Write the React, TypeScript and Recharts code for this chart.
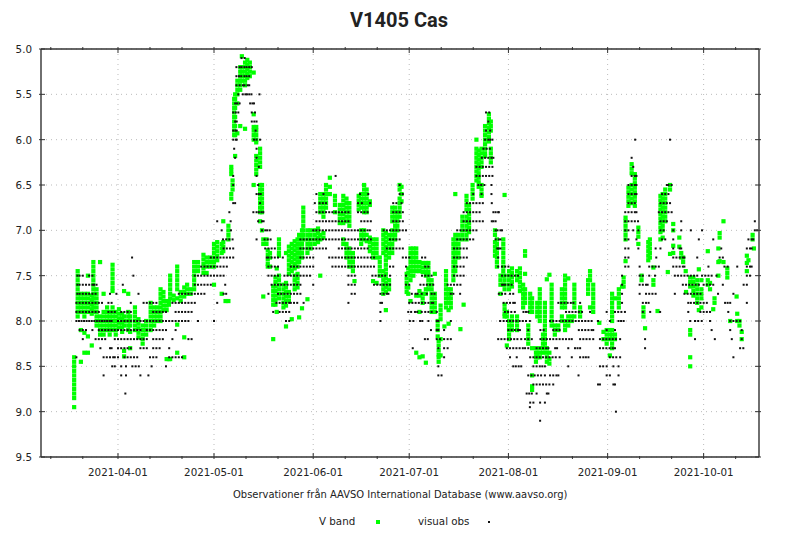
import { ScatterChart, Scatter, XAxis, YAxis, CartesianGrid } from 'recharts';

// x values are days counted from 2021-04-01, y values are magnitudes
const monthTicks = [0, 30, 61, 91, 122, 153, 183];
const monthLabels = ['2021-04-01', '2021-05-01', '2021-06-01', '2021-07-01', '2021-08-01', '2021-09-01', '2021-10-01'];
const allDayTicks = [-21, -11, 0, 10, 20, 30, 40, 50, 61, 71, 81, 91, 101, 111, 122, 132, 142, 153, 163, 173, 183, 193];
const magTicks = [5, 5.5, 6, 6.5, 7, 7.5, 8, 8.5, 9, 9.5];

// each row: day, then the magnitudes seen that day
const vBandSpring: number[][] = [
  [-13.7, 8.4, 8.45, 8.5, 8.55, 8.6, 8.65, 8.7, 8.75, 8.8, 8.85, 8.95],
  [-12.6, 7.45, 7.5, 7.55, 7.6, 7.65, 7.7, 7.75, 7.8, 7.85, 7.9, 7.95],
  [-11.6, 7.7, 7.75, 7.8, 7.85, 7.9, 8.1, 8.45],
  [-10.5, 7.7, 7.75, 7.8, 7.85, 7.9, 7.95, 8.13, 8.35],
  [-9.4, 7.5, 7.7, 7.75, 7.8, 7.85, 7.9, 8.17, 8.35],
  [-8.2, 7.72, 7.77, 7.82, 7.87, 7.92, 8.27],
  [-7.7, 7.35, 7.4, 7.45, 7.5, 7.55, 7.6, 7.65, 7.7, 7.75, 7.8, 7.85, 7.9],
  [-6.7, 7.65, 7.7, 7.75, 7.8, 7.85, 7.9, 7.95, 8.0, 8.05],
  [-5.6, 7.35, 7.95, 8.0, 8.05, 8.1, 8.15],
  [-4.5, 7.7, 7.9, 7.95, 8.0, 8.05, 8.1, 8.15],
  [-3.4, 7.85, 7.9, 7.95, 8.0, 8.05, 8.1],
  [-2.6, 7.9, 7.95, 8.0, 8.05, 8.1, 8.15],
  [-1.7, 7.38, 7.43, 7.48, 7.53, 7.58, 7.63, 7.67, 7.85, 7.9, 7.95, 8.0, 8.05, 8.1],
  [-0.7, 7.9, 7.95, 8.0, 8.05, 8.1, 8.15],
  [0.3, 7.87, 7.92, 7.97, 8.02, 8.07],
  [1.3, 7.92, 7.97, 8.02, 8.07, 8.12],
  [1.9, 7.67, 7.95, 8.0, 8.05, 8.33, 8.39],
  [3.2, 7.7, 7.9, 7.95, 8.0, 8.05, 8.1],
  [3.8, 7.95, 8.0, 8.05, 8.12, 8.3],
  [5.3, 7.85, 7.9, 7.95, 8.0, 8.05, 8.1],
  [6.4, 7.98, 8.03, 8.08, 8.13, 8.18],
  [7.7, 8.05, 8.1, 8.15, 8.2, 8.25],
  [8.8, 8.0, 8.05, 8.1, 8.15],
  [10.2, 7.8, 7.85, 7.9, 7.95, 8.0, 8.05, 8.1],
  [11.3, 7.85, 7.9, 7.95, 8.0, 8.05],
  [12.3, 7.85, 7.9, 7.95, 8.0],
  [13.3, 7.65, 7.7, 7.75, 7.8, 7.85, 7.9, 7.95, 8.0],
  [14.2, 7.68, 7.73, 7.78, 7.83, 7.88],
  [15.2, 7.78, 7.83, 7.88, 8.42],
  [15.9, 7.78, 7.82, 8.42],
  [16.3, 7.5, 7.55, 7.6, 7.65, 7.7, 7.75, 8.42],
  [17.4, 7.72, 7.77],
  [18.5, 7.4, 7.45, 7.5, 7.55, 7.6, 7.65, 7.75, 8.04, 8.35],
  [19.6, 7.68, 7.73, 7.78],
  [20.7, 7.63, 7.68, 7.73, 8.18, 8.4],
  [21.6, 7.6, 7.65, 7.7],
  [22.7, 7.65, 7.7],
  [23.8, 7.35, 7.4, 7.45, 7.5, 7.55, 7.6, 7.65],
  [25, 7.35, 7.4, 7.45],
  [26.7, 7.27, 7.32, 7.37, 7.42, 7.47],
  [27.7, 7.3, 7.35, 7.4, 7.47],
  [28.8, 7.3, 7.35, 7.4],
  [30, 7.15, 7.2, 7.25, 7.3, 7.35, 7.4, 7.6],
  [31, 7.13, 7.18, 7.23, 7.28, 7.33],
  [32.4, 7.15, 7.2, 7.25, 7.7],
  [32.9, 6.9, 7.13, 7.18, 7.23],
  [33.6, 7.78],
  [34.5, 6.95, 7.0, 7.05, 7.1, 7.78],
  [35.4, 6.3, 6.34, 6.38, 6.6, 6.65],
  [35.8, 6.45, 6.5, 6.55],
  [36.3, 5.55, 5.6, 5.65, 5.7, 5.75, 5.8, 5.85, 5.9, 5.95],
  [36.6, 5.5, 5.55, 5.65, 5.75, 5.85, 5.95, 6.18],
  [37.3, 5.35, 5.4, 5.45, 5.5, 5.6, 5.93],
  [38.2, 5.2, 5.25, 5.3, 5.35, 5.4, 5.45, 5.85],
  [38.7, 5.08, 5.2, 5.25, 5.3, 5.35],
  [39.7, 5.15, 5.2, 5.25, 5.3, 5.35, 5.4, 5.88],
  [40.4, 5.12, 5.17, 5.22, 5.27, 5.32],
  [41.2, 5.15, 5.2, 5.25, 5.3],
  [42.4, 5.26, 5.72, 5.86, 5.9, 5.95, 6.0, 6.5],
  [43.2, 5.86, 5.9, 5.95, 6.0, 6.03, 6.18, 6.23, 6.28, 6.33, 6.38],
  [44.4, 6.1, 6.15, 6.2, 6.25, 6.3, 6.5, 6.55, 6.6, 6.65, 6.7, 6.75, 6.8, 6.9],
  [45, 6.5, 6.55, 6.6, 6.65, 6.7, 6.75, 6.8, 7.0],
  [45.4, 7.1, 7.15, 7.73],
  [46.4, 7.1, 7.15],
  [46.8, 7.22, 7.27, 7.32, 7.37, 7.4],
  [47.5, 7.25, 7.3, 7.4],
  [48.5, 7.62, 7.67, 7.72, 7.77, 7.82, 8.2],
  [49.2, 7.52, 7.57, 7.62, 7.67, 7.72, 7.77, 7.82],
  [49.6, 7.42, 7.9],
  [50.3, 7.1, 7.15, 7.2, 7.25, 7.28, 7.5, 7.55, 7.6, 7.65, 7.7, 7.75],
  [51.7, 7.6, 7.65, 7.7, 7.75, 7.8, 7.85],
  [52.5, 7.25, 7.58, 7.63, 7.68, 7.73, 7.78, 7.83, 8.06],
  [53.4, 7.18, 7.23, 7.28, 7.33, 7.38, 7.43, 7.48, 7.68, 7.73, 7.78],
  [54.3, 7.15, 7.2, 7.25, 7.3, 7.35, 7.4, 7.45, 7.98],
  [55.2, 7.12, 7.17, 7.22, 7.27, 7.32, 7.37, 7.42, 7.5, 7.55, 7.6, 7.65],
  [56.1, 7.1, 7.15, 7.2, 7.25, 7.3, 7.35, 7.4, 7.48, 7.53, 7.58, 7.63],
];

const vBandSummer: number[][] = [
  [56.6, 7.05, 7.1, 7.15, 7.2, 7.25, 7.3, 7.35, 7.96],
  [57.5, 7.0, 7.05, 7.1, 7.15, 7.2, 7.25, 7.3, 7.86],
  [57.9, 6.75, 6.8, 6.85, 6.9, 6.95, 7.0, 7.05, 7.1],
  [59.2, 7.0, 7.05, 7.1, 7.15, 7.2, 7.25, 7.76],
  [60.2, 7.0, 7.05, 7.1, 7.15, 7.2],
  [61.5, 7.0, 7.05, 7.1, 7.15],
  [62.5, 6.98, 7.03, 7.08, 7.13],
  [63.2, 6.6, 6.65, 6.7, 6.75, 6.8, 7.05, 7.1, 7.5],
  [64.2, 6.6, 6.65, 6.7, 6.75, 6.8, 6.85, 7.03, 7.08],
  [65, 6.5, 6.55, 6.6, 6.65, 6.7, 6.75],
  [66.2, 6.42, 6.52, 6.6],
  [67.8, 6.62, 6.67, 6.72, 6.8],
  [69.3, 6.72, 6.77, 6.82, 6.87, 6.92],
  [70.4, 6.62, 6.67, 6.72, 6.77, 6.82, 6.87, 6.92, 7.1, 7.15],
  [71.4, 6.65, 6.7, 6.75, 6.8, 6.85, 6.9, 7.15, 7.2, 7.25, 7.3],
  [72.3, 6.7, 6.75, 6.8, 6.85, 6.9, 6.95, 7.2, 7.25, 7.3, 7.35, 7.4],
  [73.4, 7.25, 7.3, 7.35, 7.4, 7.45],
  [73.9, 7.56],
  [75.2, 6.62, 6.67, 6.72, 6.77],
  [76, 6.6, 6.65, 6.7, 6.75, 7.0, 7.05, 7.1, 7.15],
  [76.9, 6.5, 6.55, 6.6, 6.65, 6.7, 6.75, 6.8, 7.0, 7.05, 7.1],
  [77.7, 6.55, 6.6, 6.65, 6.7, 6.75, 6.8, 7.05, 7.12],
  [78.7, 6.68, 6.72, 7.08, 7.13, 7.18, 7.23],
  [79.7, 7.1, 7.15, 7.2, 7.25, 7.3, 7.56],
  [80.8, 7.1, 7.15, 7.2, 7.25, 7.3, 7.58],
  [81.8, 7.3, 7.35, 7.4, 7.45, 7.5],
  [82.9, 7.0, 7.05, 7.1, 7.15, 7.2, 7.25, 7.45, 7.5, 7.55, 7.6, 7.65, 7.7],
  [83.7, 7.03, 7.08, 7.13, 7.18, 7.23, 7.28, 7.33, 7.38, 7.43, 7.48, 7.53, 7.58, 7.63, 7.68, 7.88],
  [84.7, 7.05, 7.1, 7.15, 7.2, 7.25, 7.3, 7.55, 7.6, 7.65],
  [85.7, 6.75, 6.8, 6.85, 6.9, 7.0, 7.05, 7.1, 7.15, 7.2, 7.25],
  [86.6, 6.75, 6.8, 6.85, 6.9, 6.95, 7.0, 7.05, 7.1],
  [87.3, 6.8, 6.85, 6.9, 6.95, 7.0],
  [88, 6.5, 6.55, 6.65, 6.7, 6.75, 6.8, 6.85],
  [88.6, 6.52, 6.6, 6.68],
  [90.2, 7.48, 7.53, 7.58, 7.63, 7.68],
  [90.7, 7.42, 7.47, 7.63, 7.7],
  [91.4, 7.2, 7.25, 7.3, 7.35, 7.4, 7.45, 7.5, 7.55, 7.78],
  [92.3, 7.2, 7.25, 7.3, 7.35, 7.4, 7.45, 7.5],
  [93.2, 7.2, 7.25, 7.3, 7.35, 7.4, 7.45, 7.72, 8.35],
  [94.2, 7.35, 7.4, 7.45, 7.67, 7.72, 7.9, 8.4],
  [95.2, 7.36, 7.41, 7.46, 7.7, 7.75, 7.8, 8.39],
  [96.2, 7.36, 7.41, 7.46, 7.5, 7.65, 7.7, 8.46],
  [97, 7.36, 7.41, 7.46, 7.5, 7.55, 7.6, 7.65],
  [98, 7.55, 7.6, 7.65, 7.7, 7.75, 7.8, 7.85, 7.9],
  [99, 7.48, 7.7, 7.75, 7.8, 7.85, 7.9],
  [99.9, 8.0, 8.05, 8.1, 8.17],
  [100.2, 8.22, 8.27, 8.32, 8.37, 8.4, 8.45],
  [100.8, 7.83, 7.88, 7.93, 7.98, 8.2, 8.38],
  [102, 8.06],
  [102.5, 7.45, 7.5, 7.55, 7.6, 7.65, 7.7, 7.75, 7.8, 7.85],
  [103.3, 7.65, 7.7, 7.75, 7.8, 7.88, 8.03],
  [104, 7.65, 7.7, 7.75, 7.8, 7.85],
  [104.8, 7.1, 7.15, 7.2, 7.25, 7.3, 7.35, 7.4, 7.45, 7.5, 7.55],
  [105.4, 6.6, 7.05, 7.1, 7.15, 7.2, 7.25, 7.3, 7.35, 7.4, 7.45],
  [106.4, 7.05, 7.1, 7.15, 7.2, 7.25, 7.3],
  [107, 8.09],
  [107.6, 6.85, 6.9, 6.95, 7.0, 7.05, 7.1],
  [108, 7.82],
  [108.9, 6.62, 6.67, 6.72, 6.77, 6.85, 6.9, 6.95, 7.0, 7.05, 7.1],
  [109.7, 6.72, 6.77, 6.82, 6.87, 6.92, 6.97, 7.02],
  [110.8, 6.5, 6.55, 6.6, 6.65],
  [112, 6.0, 6.1, 6.15, 6.2, 6.25, 6.3, 6.35, 6.4, 6.45],
  [112.7, 6.12, 6.17, 6.22, 6.27, 6.32, 6.37, 6.42, 6.47, 6.52],
  [113.6, 6.1, 6.15, 6.2, 6.25, 6.3, 6.5, 6.55, 6.6, 6.62],
  [114.7, 5.85, 5.9, 5.95, 6.0, 6.05, 6.1, 6.15, 6.18],
  [115.9, 5.72, 5.77, 5.82, 5.87, 5.92, 5.97, 6.02],
  [116.5, 5.8, 5.85, 5.9, 6.1, 6.15, 6.2, 6.25],
  [117.8, 7.0, 7.05, 7.13, 7.18, 7.23, 7.28],
  [118.4, 7.1, 7.15, 7.2, 7.25, 7.3, 7.35, 7.4],
  [119.5, 7.5, 7.55, 7.6, 7.7],
  [120.4, 7.1, 7.15, 7.2, 7.25, 7.3, 7.35, 7.4, 7.45, 7.5, 7.6],
  [120.8, 6.61, 7.5, 7.55, 7.6, 7.65, 7.82, 7.87, 7.92, 7.95],
  [121.5, 7.9, 7.95, 8.27],
  [122.2, 7.45, 7.5, 7.55, 7.6, 7.65, 8.0, 8.05, 8.1, 8.15, 8.2],
  [123.1, 7.42, 7.47, 7.52, 7.57, 7.62, 7.95, 8.0, 8.05, 8.1],
  [124.7, 7.45, 7.5, 7.55, 7.95, 8.0, 8.05, 8.1],
  [125.6, 7.42, 7.47, 7.52, 7.57, 7.62, 7.67],
  [126.6, 7.6, 7.65, 7.7, 7.75, 7.8, 7.85],
  [127.2, 7.23, 7.28, 7.48, 7.65, 7.7, 7.75, 7.8],
  [128.2, 8.05, 8.1, 8.15, 8.2, 8.25],
  [128.8, 7.7, 7.75, 7.8, 7.85, 7.9],
  [129.4, 7.75, 7.8, 7.85, 7.9, 8.3, 8.6, 8.72, 8.76],
  [130.6, 8.3, 8.35, 8.4, 8.45],
  [131, 7.8, 7.85, 7.9, 7.95, 8.35, 8.4],
  [131.8, 7.65, 7.7, 7.75, 7.8, 7.85, 7.9, 7.95, 8.0, 8.3, 8.35, 8.4],
  [132.8, 8.15, 8.2, 8.25, 8.3, 8.35],
  [133.4, 7.8, 7.85, 7.9, 7.95, 8.0, 8.05, 8.1, 8.15, 8.2, 8.25, 8.3],
  [134, 7.54, 8.3, 8.35, 8.4, 8.45],
  [134.8, 7.49, 8.35, 8.42, 8.47],
  [135.5, 7.6, 7.65, 7.7, 7.75, 7.8, 7.85, 7.9, 7.95, 8.0, 8.05],
  [136.5, 8.05, 8.1, 8.15],
  [137.6, 8.05, 8.1],
  [138.7, 7.65, 7.7, 7.75, 7.8, 7.85, 7.95, 8.0],
  [139.7, 7.5, 7.55, 7.6, 7.65, 7.7, 7.75, 7.8, 7.85, 8.0, 8.05, 8.1],
  [140.7, 7.53, 7.95, 8.0, 8.05],
  [141.8, 7.95, 8.0],
];

const vBandAutumn: number[][] = [
  [142.6, 7.6, 7.65, 7.7, 7.75, 7.8, 7.85, 7.95],
  [144.4, 7.85, 7.9, 7.95],
  [146.9, 7.55, 7.6, 7.65, 7.7],
  [147.5, 7.45, 7.5, 7.55, 7.85],
  [148.5, 7.6, 7.65, 7.7, 7.75, 7.8, 7.85, 7.9],
  [150.4, 8.02],
  [151.7, 8.12, 8.2],
  [152.7, 8.1, 8.15, 8.2, 8.25],
  [153.7, 8.1, 8.15, 8.2, 8.38],
  [154.4, 7.7, 7.75, 7.8, 7.85, 7.9, 7.95, 8.0, 8.1, 8.15, 8.2, 8.25, 8.3],
  [155.3, 7.75, 8.15, 8.2],
  [156.5, 7.65, 7.7, 7.75, 7.8, 7.85],
  [157.5, 7.62],
  [158, 7.52, 7.57, 7.62],
  [158.6, 6.86, 6.9, 6.95, 7.0, 7.05, 7.1, 7.34],
  [159.5, 6.53, 6.58, 6.63, 6.68, 6.73],
  [160.5, 6.27, 6.32, 6.37, 6.5, 6.55, 6.6, 6.65, 6.7],
  [161.5, 6.38, 6.43, 6.48, 6.53, 6.58, 6.63, 6.68, 6.73],
  [162.6, 6.97, 7.02, 7.07, 7.15],
  [163.6, 7.5, 7.55],
  [164.2, 7.85, 7.9, 7.95],
  [164.7, 8.08],
  [165.7, 7.13, 7.18, 7.23, 7.28, 7.33],
  [166.2, 7.1, 7.15, 7.2, 7.25, 7.3],
  [167.3, 7.41, 7.55, 7.6],
  [168.6, 7.89],
  [169.5, 6.62, 6.67, 6.72, 6.77, 6.82, 6.87, 6.92, 6.97, 7.02, 7.1],
  [170.2, 6.6, 6.65, 6.7, 6.75, 6.8, 6.85, 6.9, 6.95, 7.0, 7.08],
  [171, 6.55, 6.6, 6.65, 6.7, 6.75, 6.8, 6.85, 6.9],
  [171.8, 7.46],
  [172.5, 6.5, 6.55, 7.26],
  [173.5, 6.93, 7.0, 7.17, 7.25],
  [175.4, 7.08, 7.18],
  [176, 7.25, 7.3],
  [176.6, 7.3, 7.35],
  [177.4, 7.45],
  [177.5, 7.68],
  [178.8, 7.52, 7.57, 7.62, 8.1, 8.15, 8.4, 8.5],
  [179.8, 7.52, 7.57, 7.62, 7.67, 7.72],
  [181, 7.55, 7.6, 7.65, 7.7, 7.75, 7.8],
  [181.5, 7.43, 7.88],
  [182.3, 7.55, 7.65, 7.7, 7.75, 7.85],
  [184.3, 7.23, 7.55, 7.6],
  [185, 7.58, 7.65],
  [186, 7.87],
  [186.4, 7.75, 7.8],
  [187.6, 7.2, 7.35, 7.5],
  [188, 7.03, 7.08, 7.34],
  [189.2, 6.9, 7.35],
  [190.4, 7.42, 7.47, 7.52],
  [191.3, 8.0],
  [193.3, 7.73],
  [193.5, 7.92, 8.0],
  [194.2, 8.0, 8.05],
  [194.9, 8.12, 8.2],
  [196.5, 7.28, 7.36, 7.45],
  [197, 7.33],
  [198.3, 7.05, 7.1],
  [198.7, 7.2],
];

// each row: magnitude, then the days with a visual estimate at that magnitude
const visualBright: number[][] = [
  [5.1, 38.6, 39.6],
  [5.2, 37, 38, 38.6, 39.5, 40.2, 41, 41.8],
  [5.3, 37, 37.8, 38.5, 39.5, 40.2, 41],
  [5.4, 37, 38, 39, 39.5, 40.5, 41],
  [5.5, 37.6, 39, 39.8, 40.3, 41, 41.7, 44.2],
  [5.6, 36.6, 37.2, 38, 41.3, 42, 42.5],
  [5.7, 36, 36.8, 37.6, 41.8, 42.8, 115, 116],
  [5.8, 36.6, 37.1, 41.8, 42.6, 43.3, 115.7],
  [5.9, 36, 36.7, 37.1, 43, 115, 116.3],
  [6.0, 36, 36.8, 37.1, 42.5, 43.3, 44.4, 114.7, 115.7, 116.3, 117, 161.6, 172.5],
  [6.1, 36.3, 43.3, 114.2, 115.2, 116.2],
  [6.2, 36.6, 43.3, 113.7, 114.7, 115.7, 116.7, 117.3, 160.5],
  [6.3, 44, 112, 113, 114, 115, 116, 117, 161],
  [6.4, 36, 43.3, 68, 112, 113, 114, 115, 116, 117, 160.5, 161.5, 162],
  [6.5, 36, 43.8, 88, 112.6, 113.5, 114.5, 116.7, 159.5, 160.5, 161.5, 162, 171.5, 172, 173],
  [6.6, 43.3, 44, 44.6, 62, 64.2, 75.6, 78.2, 88, 89, 111, 113.6, 116.7, 159.5, 160.5, 161.5, 162, 170, 171, 172],
  [6.7, 36, 36.6, 44.4, 61.5, 63, 64, 65, 75, 76.2, 78.8, 86, 87, 88.6, 109, 110, 111, 112, 113, 114, 116.8, 159.5, 160.5, 161.5, 169.5, 170.5, 171.5, 172.5],
  [6.8, 34.8, 42.3, 43.3, 44, 44.8, 45.4, 62, 63, 64, 65, 66, 67, 68, 69, 70, 71, 72, 75, 76, 77, 78, 86, 87, 88, 89, 108, 109, 110, 111, 112, 113, 117.3, 118, 118.8, 119, 158.5, 159.5, 160.5, 161.5, 162, 169, 170, 171, 172, 173],
  [6.9, 31, 35.2, 43.8, 45, 45.5, 62, 63, 64, 65, 66, 67, 68, 69, 70, 71, 72, 76, 77, 78, 79, 86, 87, 88, 89, 108, 109, 110, 111, 112, 113, 114, 116.8, 117.3, 118, 158.5, 159.5, 160.5, 161.5, 162.5, 169.5, 170.5, 171.5, 176, 199],
];

const visualMiddle: number[][] = [
  [7.0, 32.4, 35.3, 45, 46, 46.6, 47.4, 61, 62, 63, 64, 65, 66, 67, 68, 69, 70, 71, 72, 73, 74, 75, 76, 77, 78, 78.7, 83, 84, 85, 86, 87, 88, 89, 90, 106, 107, 108, 109, 110, 111, 112, 118, 118.6, 119.5, 120, 158.5, 159.5, 161, 162.6, 169.5, 170.5, 173.5, 176, 179, 182.5, 199, 199.7],
  [7.1, 32.8, 33.8, 34.8, 35.8, 43.3, 45.8, 46.8, 47.7, 57, 58, 59, 60, 61, 62, 63, 64, 65, 66, 67, 68, 69, 70, 71, 72, 73, 74, 75, 76, 77, 78, 79, 85, 86, 87, 88, 106, 107, 108, 109, 110, 111, 118, 119, 119.5, 158.5, 159.5, 162, 170, 171, 173.5, 181.5, 186, 197, 198, 198.5],
  [7.2, 33, 34, 35, 36, 46, 47, 48, 49, 57, 58, 59, 60, 61, 62, 63, 64, 65, 69, 70, 71, 72, 73, 74, 75, 76, 77, 78, 84, 85, 86, 87, 88, 89, 105, 106, 107, 108, 109, 118.5, 119, 119.5, 158.5, 159.5, 162.6, 168, 169.5, 173.5, 175.5, 176, 188.5, 196.5, 197.5, 198],
  [7.3, 4.4, 29, 30, 31, 32, 33, 34, 35, 36, 46.5, 47, 48, 49, 50, 51.5, 57, 58, 59, 60, 61, 66, 67, 68, 69, 70, 71, 72, 73, 74, 75, 76, 77, 78, 79, 80, 89, 90, 91, 95, 96, 105, 106, 107, 108, 109, 118.8, 158.5, 159.5, 168.2, 173.5, 174.5, 175.5, 176.5, 177, 181, 188, 189],
  [7.4, 26, 27, 28, 29, 30, 31, 32, 33, 34, 47, 48, 49, 50, 54, 55, 56, 57, 58, 59, 60, 61, 67, 68, 69, 70, 71, 72, 73, 74, 75, 76, 77, 78, 79, 80, 85, 86, 90, 96, 97, 105, 106, 107, 108, 118.8, 120, 121, 122, 158.5, 159.5, 163, 166, 167, 168, 169, 173.5, 174.5, 175.5, 176.5, 177, 184.5, 189.5, 190.5, 193.5, 196.5, 197.5, 198],
  [7.5, -12.7, -12, -11, -9, -8, 4.8, 24, 25, 26, 27, 28, 29, 30, 31, 32, 33, 47, 48, 49, 50, 52, 53, 54, 55, 56, 57, 58, 59, 60, 72, 73, 74, 79.5, 80.5, 81.5, 82.5, 83.5, 85, 90, 95, 96, 97, 98, 105, 106, 107, 108, 120, 121, 122, 123, 124, 125, 157.5, 163, 164, 166, 167.8, 174, 175, 176, 177, 178, 179, 180, 181, 182.5, 183.5, 184.5, 185.5, 187, 196.5, 197.5],
  [7.6, -12.7, -12, -11, -10, -9, -8, -7.5, -6.7, 1.5, 24, 25, 26, 27, 28, 29, 33.5, 48, 49, 50, 51, 52, 53, 54, 55, 56, 57, 61, 72, 73, 74, 80, 81, 82, 83, 84, 85, 90, 91, 94.5, 95.5, 96.5, 97.5, 98.5, 103, 104, 105, 106, 107, 120, 120.5, 121, 122, 123, 157.5, 163, 164, 165, 165.5, 176.5, 177.5, 178.5, 179.5, 180.5, 181.5, 183, 184, 185, 186, 189, 195.5, 196.5],
  [7.7, -12.7, -12, -11, -10, -9, -8, -7, -2.5, -0.5, 6.4, 19, 20, 21, 22, 23, 24, 25, 26, 27, 33, 33.8, 47, 50, 51, 52, 53, 54, 55, 56, 57, 73, 74, 82, 83, 84, 84.5, 91.8, 93, 93.6, 94.9, 96.5, 98, 98.9, 104, 104.8, 106.9, 119, 120, 121, 122.5, 123.5, 157.5, 163, 165, 166, 167, 168, 174, 177, 178, 179, 180, 181, 182, 187.5, 192.3],
  [7.8, -13, -12, -11, -10, -9, -8, -7, -6, -5, -3, -2, 4, 8, 9, 10, 11, 12, 17, 18, 19, 20, 21, 22, 23, 24, 31, 49.5, 50.5, 51.5, 52.5, 53.5, 54, 55, 56, 58, 72, 82, 82.5, 91, 92, 93, 94, 95, 96, 97, 98, 98.5, 120.5, 121.5, 122.5, 123.5, 124, 137.6, 138.5, 139.5, 140.5, 141.5, 142.3, 144.4, 157.5, 164, 165, 165.8, 178.2, 179, 180, 181, 182, 183, 184, 189.7, 190.5, 191.3, 196.5],
  [7.9, -13, -12, -11, -10, -9, -8, -7, -6, -3, -2, -1, 1, 2, 3, 4, 11, 12, 13, 14, 15, 18, 19, 20, 21, 22, 23, 48.5, 50.5, 51.5, 52.5, 53.5, 82, 90.7, 91.6, 92.8, 93.5, 94.9, 96, 97, 98, 99.6, 120.9, 121.9, 122.9, 124, 126.7, 127.5, 128.2, 140, 141, 142, 143, 144, 145, 147.5, 152.7, 155.3, 156.3, 157.3, 158.4, 164, 166.3, 169.4, 178.2, 182, 183, 184, 185, 190.7],
];

const visualFaint: number[][] = [
  [8.0, -13, -12.2, -11.4, -10.6, -9.8, -9, -8.2, -7.4, -6.6, -5.8, -5, -4.2, -3.4, -2.6, -2, 0, 1, 2, 3, 4, 5, 6, 7, 8, 9, 10, 11, 12, 13, 14, 15, 16, 17, 18, 19, 20, 21, 22, 25, 30, 52.5, 53.5, 82, 91.2, 92.3, 94.4, 95.1, 97, 99.6, 100.1, 104, 119.4, 120.5, 121.5, 122.5, 123.5, 124.5, 125.5, 126.5, 127.5, 128.7, 135, 136, 137, 138, 139, 140, 141, 142, 143, 144, 145, 146, 147, 148, 150, 153.7, 156.4, 157.2, 158, 178.8, 180.3, 181.3, 182.4, 185, 191.3, 192.3, 193.3, 194.4],
  [8.1, -12, -11, -10, -8, -6, -5, -4, -3, -2, -1, 0, 1, 2, 3, 4, 5, 6, 7, 9, 10, 11, 12, 13, 14, 15, 18, 97.8, 99.6, 100.1, 101.9, 122, 123, 124, 125, 125.6, 128.2, 132, 133, 136, 137, 138, 144, 145, 146, 147, 148, 148.5, 152.7, 155.3, 185.5, 191.3, 194.9],
  [8.2, -11, -7, -6, -5, -4, -1, 0, 1, 2, 3, 4, 5, 6, 7, 8, 9, 11, 12, 13, 14, 17, 22, 23, 95.9, 96.8, 99.6, 100.6, 101.9, 103, 104, 118.8, 119.8, 120.8, 121.8, 122.8, 123.8, 124.8, 126, 127.2, 128.2, 129.3, 132, 133, 134, 135, 136, 137, 138, 139, 140, 141, 141.8, 144.4, 145.4, 146.4, 147.4, 148.5, 150.6, 151.6, 152.6, 153.6, 154.6, 155.6, 156.9, 164.7, 180.3, 186.5, 191.8, 194.9],
  [8.3, -5.5, -2.5, -2, 0, 1, 2, 3, 4, 7, 8, 9, 11, 12, 13, 16, 92.1, 100.1, 101.9, 103, 121.5, 122.5, 123.5, 124.5, 125.5, 126.5, 127.2, 128.2, 130.8, 131.8, 132.8, 133.8, 134.5, 136.6, 137.2, 140.7, 142.8, 143.6, 144.4, 150.6, 151.6, 152.6, 153.6, 154.6, 155.3, 164.7, 194.4, 195.4],
  [8.4, -13, -4.5, -3.5, -2.5, -1.5, -1, 0, 2, 3, 4, 5, 6, 10, 11, 12, 16, 17, 18, 19, 20, 101.9, 122.5, 124.6, 128.8, 129.8, 130.8, 131.8, 132.8, 133.8, 134.8, 135.8, 136.8, 138, 141.8, 144.4, 145.4, 146.2, 147, 153.7, 154.7, 155.7, 156.9, 192.3],
  [8.5, -1.8, -1, 1, 2.5, 4.5, 5.5, 6.5, 10.5, 15, 100.1, 123.5, 124.3, 125.2, 126, 129.8, 130.8, 131.8, 132.6, 133.4, 140.7, 150.6, 151.6, 152.7, 154.8, 156.4],
  [8.6, -4.5, 1, 2.5, 7, 9.5, 100.1, 101.1, 128.2, 129.2, 130.2, 131.2, 132.2, 133.4, 135, 136, 137, 137.6, 143.9, 152.7, 153.7, 156.4],
  [8.7, 129.8, 130.8, 131.8, 132.8, 133.8, 134.8, 136, 150, 150.6, 154.8, 155.3],
  [8.8, 2.3, 127.7, 128.5, 129.3, 130.8, 134, 134.5],
  [8.9, 128.8, 129.8, 131.9, 133.4],
  [8.95, 128.7],
  [9.0, 155.6],
  [9.1, 131.9],
];

const vBandPoints = [...vBandSpring, ...vBandSummer, ...vBandAutumn].flatMap(([day, ...mags]) =>
  mags.map((mag) => ({ day, mag }))
);
const visualPoints = [...visualBright, ...visualMiddle, ...visualFaint].flatMap(([mag, ...days]) =>
  days.map((day) => ({ day, mag }))
);

const tickFont = { fontFamily: 'DejaVu Sans', fontSize: 10.3, fill: '#222' };

function BottomTick({ x, y, payload }: any) {
  const i = monthTicks.indexOf(payload.value);
  return (
    <g>
      <line x1={x} x2={x} y1={y} y2={y - (i >= 0 ? 6 : 3)} stroke="#333" />
      {i >= 0 && (
        <text x={x} y={y + 17} textAnchor="middle" {...tickFont}>
          {monthLabels[i]}
        </text>
      )}
    </g>
  );
}

function TopTick({ x, y, payload }: any) {
  const major = monthTicks.includes(payload.value);
  return <line x1={x} x2={x} y1={y} y2={y + (major ? 6 : 3)} stroke="#333" />;
}

function LeftTick({ x, y, payload }: any) {
  return (
    <g>
      <line x1={x} x2={x + 6} y1={y} y2={y} stroke="#333" />
      <text x={x - 7} y={y + 4} textAnchor="end" {...tickFont}>
        {payload.value.toFixed(1)}
      </text>
    </g>
  );
}

function RightTick({ x, y }: any) {
  return <line x1={x} x2={x - 6} y1={y} y2={y} stroke="#333" />;
}

const GreenMark = ({ cx, cy }: any) => <rect x={cx - 2.1} y={cy - 2.1} width={4.2} height={4.2} fill="#00ff00" />;
const BlackMark = ({ cx, cy }: any) => <rect x={cx - 1} y={cy - 1} width={2} height={2} fill="#111" />;

const overlayText = (left: number, top: number, font: string, size: number): React.CSSProperties => ({
  position: 'absolute',
  left,
  top,
  fontFamily: font,
  fontSize: size,
  color: '#222',
  whiteSpace: 'nowrap',
  lineHeight: 1,
});

export default function App() {
  return (
    <div style={{ position: 'absolute', left: 0, top: 0, width: 800, height: 533, background: '#fff' }}>
      <ScatterChart width={800} height={533} margin={{ top: 0, right: 0, bottom: 0, left: 0 }}>
        <CartesianGrid stroke="#bbb" strokeDasharray="1 4" verticalValues={monthTicks} horizontalValues={magTicks} />
        <XAxis
          type="number"
          dataKey="day"
          domain={[-24.06, 200.3]}
          ticks={allDayTicks}
          interval={0}
          height={76}
          tickSize={0}
          tickLine={false}
          axisLine={{ stroke: '#333', strokeWidth: 1.4 }}
          tick={BottomTick}
          allowDataOverflow
        />
        <XAxis
          xAxisId="top"
          orientation="top"
          type="number"
          dataKey="day"
          domain={[-24.06, 200.3]}
          ticks={allDayTicks}
          interval={0}
          height={49}
          tickSize={0}
          tickLine={false}
          axisLine={{ stroke: '#333', strokeWidth: 1.4 }}
          tick={TopTick}
          allowDataOverflow
        />
        <YAxis
          type="number"
          dataKey="mag"
          reversed
          domain={[5, 9.5]}
          ticks={magTicks}
          interval={0}
          width={41}
          tickSize={0}
          tickLine={false}
          axisLine={{ stroke: '#333', strokeWidth: 1.4 }}
          tick={LeftTick}
          allowDataOverflow
        />
        <YAxis
          yAxisId="right"
          orientation="right"
          type="number"
          dataKey="mag"
          reversed
          domain={[5, 9.5]}
          ticks={magTicks}
          interval={0}
          width={41}
          tickSize={0}
          tickLine={false}
          axisLine={{ stroke: '#333', strokeWidth: 1.4 }}
          tick={RightTick}
          allowDataOverflow
        />
        <Scatter data={vBandPoints} shape={GreenMark} isAnimationActive={false} />
        <Scatter data={visualPoints} shape={BlackMark} isAnimationActive={false} />
      </ScatterChart>
      <div style={{ ...overlayText(350, 10, 'Roboto', 20), fontWeight: 700 }}>V1405 Cas</div>
      <div style={overlayText(233, 490, 'DejaVu Sans', 9.95)}>Observationer från AAVSO International Database (www.aavso.org)</div>
      <div style={overlayText(319, 516, 'DejaVu Sans', 10.3)}>V band</div>
      <div style={{ position: 'absolute', left: 376, top: 520, width: 3.5, height: 3.5, background: '#00ff00' }} />
      <div style={overlayText(418, 516, 'DejaVu Sans', 10.3)}>visual obs</div>
      <div style={{ position: 'absolute', left: 488, top: 521, width: 2, height: 2, background: '#111' }} />
    </div>
  );
}
